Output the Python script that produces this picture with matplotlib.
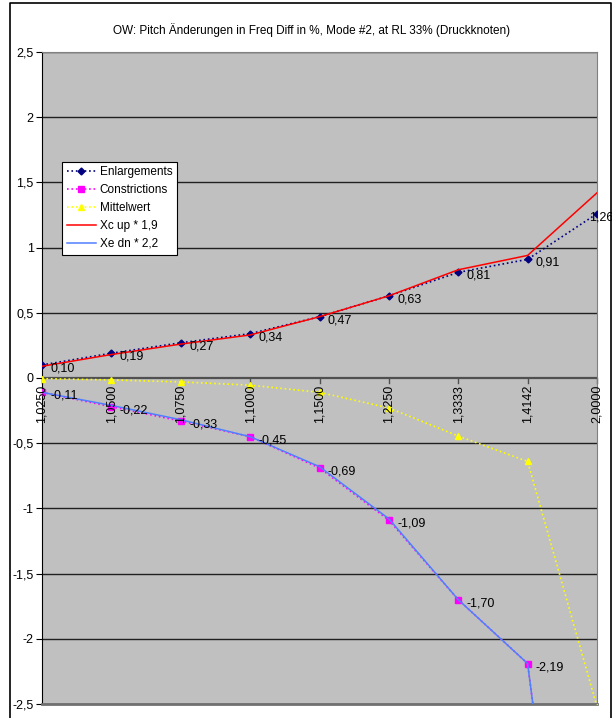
import matplotlib.pyplot as plt
from matplotlib.lines import Line2D
import numpy as np

plt.rcParams['font.family'] = ['Liberation Sans', 'DejaVu Sans']

cats = ['1,0250', '1,0500', '1,0750', '1,1000', '1,1500', '1,2250', '1,3333', '1,4142', '2,0000']
enlarg = [0.10, 0.19, 0.27, 0.34, 0.47, 0.63, 0.81, 0.91, 1.26]
constr = [-0.11, -0.22, -0.33, -0.45, -0.69, -1.09, -1.70, -2.19, -6.30]
mittel = [-0.005, -0.015, -0.03, -0.055, -0.11, -0.23, -0.445, -0.64, -2.52]
xc_up = [0.09, 0.18, 0.26, 0.33, 0.47, 0.63, 0.83, 0.94, 1.42]
xe_dn = [-0.11, -0.21, -0.32, -0.45, -0.68, -1.08, -1.70, -2.19, -6.30]
yticks = [2.5, 2, 1.5, 1, 0.5, 0, -0.5, -1, -1.5, -2, -2.5]

x = np.arange(len(cats))

fig = plt.figure(figsize=(6.12, 7.18), dpi=100)
ax = fig.add_axes([42/612, 1-704/718, 555/612, 652/718])
ax.set_facecolor('#C0C0C0')

# figure frame
fig.add_artist(Line2D([10/612, 10/612, 611/612, 611/612], [0, 1-2.5/718, 1-2.5/718, 0],
                      transform=fig.transFigure, color='black', lw=1.2))

for v in yticks:
    if v != 0:
        ax.axhline(v, color='#202020', lw=1, zorder=1)

ax.plot(x, enlarg, ':', color='#000080', marker='D', ms=3.5, lw=1.2, label='Enlargements', zorder=3)
ax.plot(x, constr, ':', color='#FF00FF', marker='s', ms=4.5, lw=1.2, label='Constrictions', zorder=3)
ax.plot(x, mittel, ':', color='#FFFF00', marker='^', ms=5, lw=1.2, label='Mittelwert', zorder=3)
ax.plot(x, xc_up, '-', color='#FF0000', lw=1.1, label='Xc up * 1,9', zorder=4)
ax.plot(x, xe_dn, '-', color='#4F7FFF', lw=1.1, label='Xe dn * 2,2', zorder=4)

# data labels
for i in range(len(cats)):
    for vals in (enlarg, constr):
        v = vals[i]
        if v < -2.5:
            continue
        dx = -6 if i == len(cats) - 1 else 6
        ax.annotate(('%.2f' % v).replace('.', ','), (x[i], v), xytext=(dx, -2.5),
                    textcoords='offset points', ha='left', va='center', fontsize=9,
                    annotation_clip=False, zorder=5)

ax.set_xlim(0, len(cats) - 1)
ax.set_ylim(-2.5, 2.5)
ax.set_yticks(yticks)
ax.set_yticklabels([('%g' % v).replace('.', ',') for v in yticks], fontsize=9)
ax.tick_params(axis='y', direction='out', length=4, pad=2)

# category axis crossing at zero
ax.axhline(0, color='#505050', lw=1.6, zorder=2)
ax.set_xticks([])
for i, c in enumerate(cats):
    ax.plot([x[i], x[i]], [0, -0.04], color='#505050', lw=1, zorder=2, clip_on=False)
    ax.annotate(c, (x[i], 0), xytext=(0, -5), textcoords='offset points', rotation=90,
                ha='center', va='top', fontsize=9, annotation_clip=False, zorder=5)

for s in ('top', 'right'):
    ax.spines[s].set_color('#808080')
ax.spines['bottom'].set_color('#707070')
ax.spines['bottom'].set_linewidth(2)
ax.spines['left'].set_color('black')

leg = ax.legend(loc='upper left', bbox_to_anchor=(0.036, 0.832), fontsize=8.5, frameon=True,
                fancybox=False, edgecolor='black', framealpha=1, handlelength=2.5,
                borderpad=0.4, labelspacing=0.5, handletextpad=0.3, borderaxespad=0)
leg.get_frame().set_linewidth(0.8)

fig.text(312/612, 1-30/718, 'OW: Pitch Änderungen in Freq Diff in %, Mode #2, at RL 33% (Druckknoten)',
         ha='center', va='center', fontsize=8.5)

fig.savefig('out.png', dpi=100)
